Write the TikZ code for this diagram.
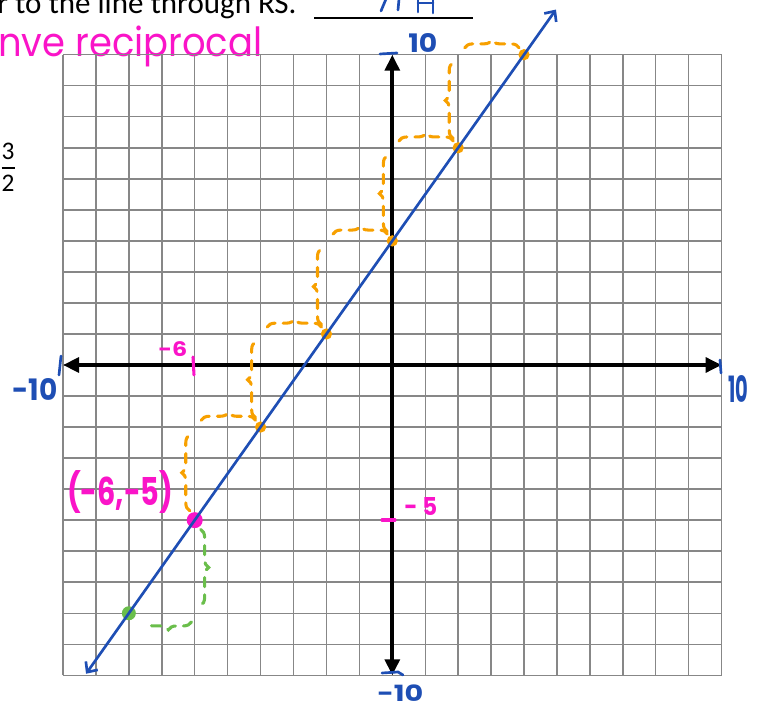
\documentclass[tikz,border=0pt]{standalone}
\usepackage{fontspec}
\usepackage{graphicx}
\setmainfont{Carlito}
\newfontfamily\hand{Poppins}
\usetikzlibrary{arrows.meta,decorations.pathreplacing}
\definecolor{gridgray}{RGB}{135,135,135}
\definecolor{penblue}{RGB}{30,78,180}
\definecolor{penpink}{RGB}{250,20,200}
\definecolor{penorange}{RGB}{247,160,0}
\definecolor{pengreen}{RGB}{106,190,75}
\tikzset{
  gridln/.style={draw=gridgray, line width=1.1pt},
  axisln/.style={draw=black, line width=3pt, {Triangle[length=12pt,width=11pt]}-{Triangle[length=12pt,width=11pt]}},
  bluepen/.style={draw=penblue, line width=2pt, line cap=round},
  pinkpen/.style={draw=penpink, line width=2.3pt, line cap=round},
  orbrace/.style={draw=penorange, line width=2.3pt, line cap=round, dash pattern=on 7pt off 6pt, decorate, decoration={brace, amplitude=6pt}},
  grbrace/.style={draw=pengreen, line width=2.3pt, line cap=round, dash pattern=on 7pt off 6pt, decorate, decoration={brace, amplitude=6pt}},
  odot/.style={circle, fill=penorange, inner sep=0pt, minimum size=8.5pt},
  pdot/.style={circle, fill=penpink, inner sep=0pt, minimum size=12pt},
  gdot/.style={circle, fill=pengreen, inner sep=0pt, minimum size=10.5pt},
  hw/.style={inner sep=0pt, anchor=north west, font=\hand\bfseries},
  printed/.style={inner sep=0pt, text=black},
}
\begin{document}
\begin{tikzpicture}[x=0.75pt, y=-0.75pt]
\useasboundingbox (0,0) rectangle (760,709);
% printed text at top
\node[printed, anchor=base west, font=\fontsize{23.25pt}{28pt}\selectfont] (q) at (-3,13.3) {r to the line through RS.};
\draw[black, line width=1.5pt] (314,18.5) -- (473,18.5);
\node[printed, anchor=base, font=\fontsize{19pt}{22pt}\selectfont] (n3) at (8,160) {3};
\node[printed, anchor=base, font=\fontsize{19pt}{22pt}\selectfont] (d2) at (8,192) {2};
\draw[black, line width=1.6pt] (1.5,168) -- (15,168);
% partial blue handwriting at top
\draw[bluepen] (386,-1) -- (381,11);
\draw[bluepen] (399,-1) -- (398,10);
\draw[bluepen] (418,-1) -- (418,12);
\draw[bluepen] (418,3) -- (433,3);
\draw[bluepen] (433,-1) -- (433,13);
% pink heading
\node[hw, text=penpink, font=\hand] (recip) at (-2,26) {\resizebox*{198pt}{30.75pt}{nve reciprocal}};

\begin{scope}[shift={(392.3,365)}, x=24.6975pt, y=23.2725pt]
  \foreach \i in {-10,...,10} {
    \draw[gridln] (\i,-10) -- (\i,10);
    \draw[gridln] (-10,\i) -- (10,\i);
  }
  \coordinate (xl) at (-10,0);
  \coordinate (xr) at (10,0);
  \coordinate (yb) at (0,-10);
  \coordinate (yt) at (0,10);
  \draw[axisln] (xl) -- (xr);
  \draw[axisln] (yb) -- (yt);
  % rise / run braces
  \foreach \k/\j in {-6/-5,-4/-2,-2/1,0/4,2/7} {
    \draw[orbrace] (\k-0.15,\j+0.3) -- (\k-0.15,\j+2.75);
    \draw[orbrace] (\k+0.2,\j+3.22) -- (\k+1.85,\j+3.22);
  }
  \draw[grbrace] (-5.82,-5.3) -- (-5.82,-7.75);
  \draw[grbrace] (-6.1,-8.28) -- (-7.5,-8.28);
  % points
  \node[odot] (o1) at (-4,-2) {};
  \node[odot] (o2) at (-2,1) {};
  \node[odot] (o3) at (0,4) {};
  \node[odot] (o4) at (2,7) {};
  \node[odot] (o5) at (4,10) {};
  \node[pdot] (pp) at (-6,-5) {};
  \node[gdot] (gp) at (-8,-8) {};
  % line
  \coordinate (lb) at (-9.3,-9.95);
  \coordinate (lt) at (4.97,11.455);
  \draw[bluepen, {Straight Barb[length=6pt,width=11pt]}-{Straight Barb[length=6pt,width=11pt]}] (lb) -- (lt);
\end{scope}

% blue axis ticks and labels
\draw[bluepen] (380,54) -- (397,53);
\draw[bluepen] (61,356) -- (59,375);
\draw[bluepen] (720,360) -- (721,373);
\draw[bluepen] (382,673) -- (398,672) -- (403,675);
\node[hw, text=penblue] (t10) at (408,33) {\resizebox*{21.75pt}{14.25pt}{10}};
\node[hw, text=penblue] (l10) at (12,378) {\resizebox*{33.75pt}{16.5pt}{-10}};
\node[hw, text=penblue] (r10) at (728,375) {\resizebox*{15pt}{20.25pt}{10}};
\node[hw, text=penblue] (b10) at (377,685) {\resizebox*{34.5pt}{12.5pt}{-10}};
% pink ticks and labels
\draw[pinkpen] (193,357) -- (194,375);
\draw[pinkpen] (382,520) -- (395,520);
\node[hw, text=penpink] (m6) at (158,341) {\resizebox*{21.75pt}{11.25pt}{-6}};
\node[hw, text=penpink] (m5) at (404,497) {\resizebox*{24.75pt}{13.5pt}{- 5}};
\node[hw, text=penpink] (pt) at (67,470) {\resizebox*{79.5pt}{32.25pt}{(-6,-5)}};
\end{tikzpicture}
\end{document}
